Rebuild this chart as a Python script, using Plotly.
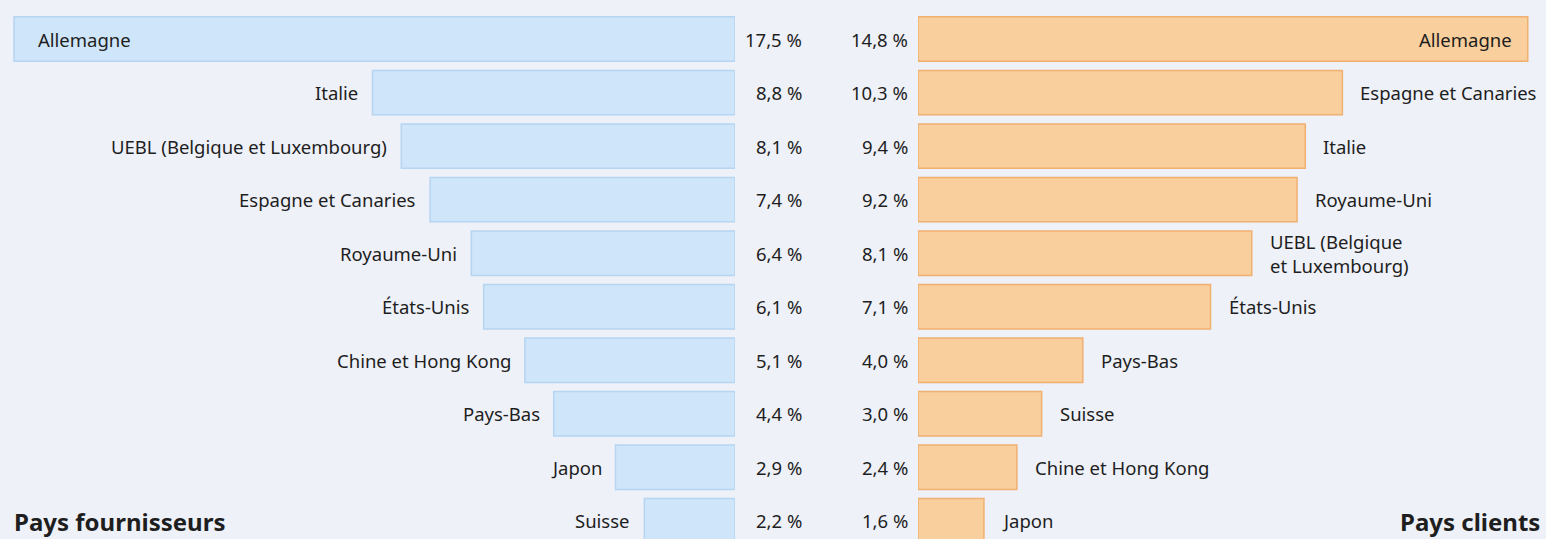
import plotly.graph_objects as go

# Data
fournisseurs = ["Allemagne", "Italie", "UEBL (Belgique et Luxembourg)", "Espagne et Canaries",
                "Royaume-Uni", "États-Unis", "Chine et Hong Kong", "Pays-Bas", "Japon", "Suisse"]
fournisseurs_pct = [17.5, 8.8, 8.1, 7.4, 6.4, 6.1, 5.1, 4.4, 2.9, 2.2]

clients = ["Allemagne", "Espagne et Canaries", "Italie", "Royaume-Uni",
           "UEBL (Belgique<br>et Luxembourg)", "États-Unis", "Pays-Bas", "Suisse",
           "Chine et Hong Kong", "Japon"]
clients_pct = [14.8, 10.3, 9.4, 9.2, 8.1, 7.1, 4.0, 3.0, 2.4, 1.6]

title_left = "Pays fournisseurs"
title_right = "Pays clients"

W, H = 1546, 539
BG = "#eef1f8"
BLUE_FILL = "#cfe5f9"
BLUE_LINE = "#b5d5f2"
ORANGE_FILL = "#f8cf9d"
ORANGE_LINE = "#f0b070"
TXT = "#1e1e1e"
FONT = "Noto Sans"

def fmt(v):
    return f"{v:.1f}".replace(".", ",") + " %"

rows = list(range(len(fournisseurs)))

fig = go.Figure()
fig.add_trace(go.Bar(
    x=fournisseurs_pct, y=rows, orientation="h", xaxis="x", yaxis="y",
    width=0.83, marker=dict(color=BLUE_FILL, line=dict(color=BLUE_LINE, width=1.5)),
    hoverinfo="skip", showlegend=False))
fig.add_trace(go.Bar(
    x=clients_pct, y=rows, orientation="h", xaxis="x2", yaxis="y",
    width=0.83, marker=dict(color=ORANGE_FILL, line=dict(color=ORANGE_LINE, width=1.5)),
    hoverinfo="skip", showlegend=False))

ann = []
fs = 18.5
for i, (name, v) in enumerate(zip(fournisseurs, fournisseurs_pct)):
    if v == max(fournisseurs_pct):
        ann.append(dict(xref="x", yref="y", x=v, y=i, text=name, xanchor="left",
                        xshift=22, showarrow=False, font=dict(size=fs, color=TXT, family=FONT)))
    else:
        ann.append(dict(xref="x", yref="y", x=v, y=i, text=name, xanchor="right",
                        xshift=-12, showarrow=False, font=dict(size=fs, color=TXT, family=FONT)))
    ann.append(dict(xref="x", yref="y", x=0, y=i, text=fmt(v), xanchor="right",
                    xshift=69, showarrow=False, font=dict(size=fs, color=TXT, family=FONT)))

for i, (name, v) in enumerate(zip(clients, clients_pct)):
    if v == max(clients_pct):
        ann.append(dict(xref="x2", yref="y", x=v, y=i, text=name, xanchor="right",
                        xshift=-14, showarrow=False, font=dict(size=fs, color=TXT, family=FONT)))
    else:
        ann.append(dict(xref="x2", yref="y", x=v, y=i, text=name, xanchor="left",
                        xshift=16, align="left", showarrow=False,
                        font=dict(size=fs, color=TXT, family=FONT)))
    ann.append(dict(xref="x2", yref="y", x=0, y=i, text=fmt(v), xanchor="right",
                    xshift=-8, showarrow=False, font=dict(size=fs, color=TXT, family=FONT)))

ann.append(dict(xref="paper", yref="paper", x=12 / W, y=1 - 521 / H, text=f"<b>{title_left}</b>",
                xanchor="left", yanchor="middle", showarrow=False,
                font=dict(size=24, color=TXT, family=FONT)))
ann.append(dict(xref="paper", yref="paper", x=1542 / W, y=1 - 521 / H, text=f"<b>{title_right}</b>",
                xanchor="right", yanchor="middle", showarrow=False,
                font=dict(size=24, color=TXT, family=FONT)))

px_per_pct = 41.2
fig.update_layout(
    width=W, height=H,
    margin=dict(l=0, r=0, t=0, b=0),
    paper_bgcolor=BG, plot_bgcolor=BG,
    xaxis=dict(domain=[0, 735 / W], range=[735 / px_per_pct, 0], visible=False, fixedrange=True),
    xaxis2=dict(domain=[918 / W, 1], range=[0, (W - 918) / px_per_pct], visible=False, fixedrange=True),
    yaxis=dict(range=[9.34, -0.73], visible=False, fixedrange=True),
    annotations=ann,
    barmode="overlay",
)

fig.write_html("out.html", config={"displayModeBar": False})
